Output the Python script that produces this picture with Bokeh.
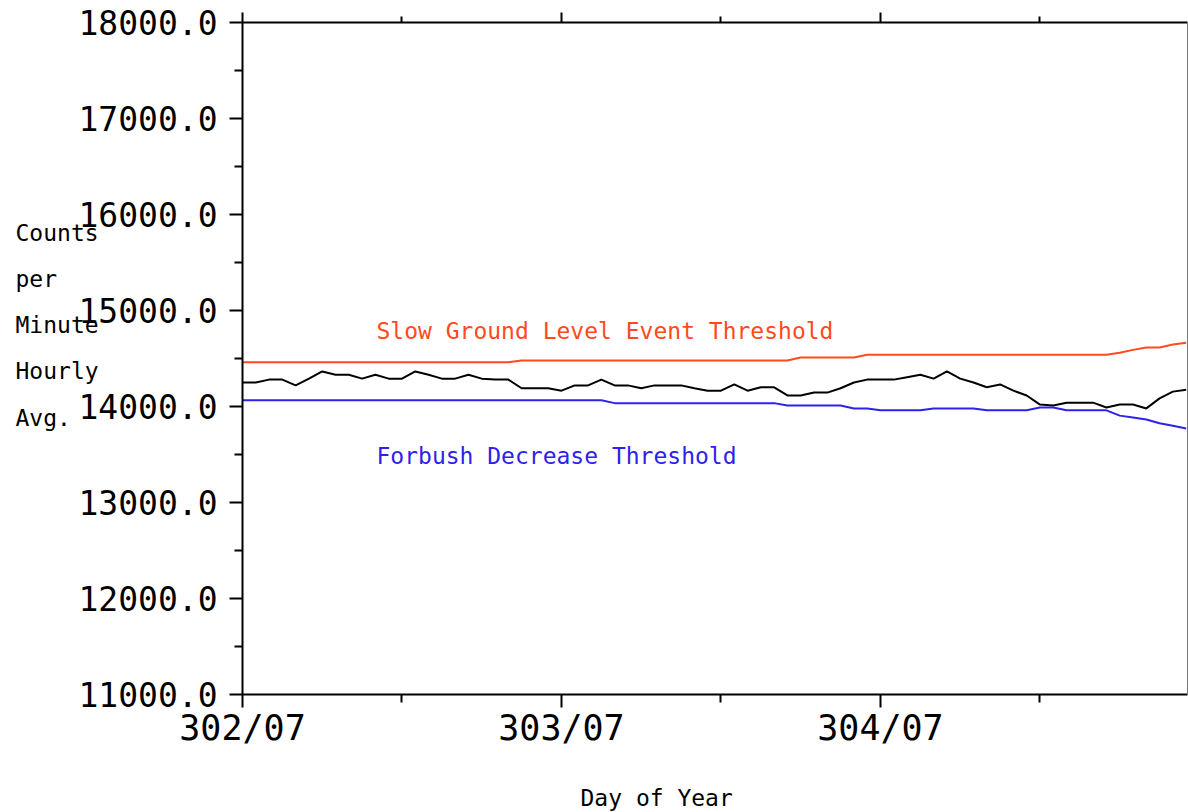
from bokeh.plotting import figure
from bokeh.models import Range1d, LinearAxis, FixedTicker, Label
from bokeh.embed import file_html
from bokeh.resources import INLINE

# ---- data -------------------------------------------------------------
hours = list(range(72))  # hours after 302/07

counts = [14250, 14250, 14280, 14280, 14220, 14290, 14365, 14330, 14330, 14290,
          14330, 14290, 14290, 14365, 14330, 14290, 14290, 14330, 14290, 14280,
          14280, 14190, 14190, 14190, 14165, 14220, 14220, 14280, 14220, 14220,
          14190, 14220, 14220, 14220, 14190, 14165, 14165, 14230, 14165, 14200,
          14200, 14115, 14115, 14145, 14145, 14190, 14250, 14280, 14280, 14280,
          14305, 14330, 14290, 14365, 14290, 14250, 14200, 14230, 14165, 14115,
          14020, 14010, 14040, 14040, 14040, 13990, 14020, 14020, 13980, 14085,
          14155, 14175]

slow_gle = [14460, 14460, 14460, 14460, 14460, 14460, 14460, 14460, 14460, 14460, 14460, 14460,
            14460, 14460, 14460, 14460, 14460, 14460, 14460, 14460, 14460, 14480, 14480, 14480,
            14480, 14480, 14480, 14480, 14480, 14480, 14480, 14480, 14480, 14480, 14480, 14480,
            14480, 14480, 14480, 14480, 14480, 14480, 14510, 14510, 14510, 14510, 14510, 14540,
            14540, 14540, 14540, 14540, 14540, 14540, 14540, 14540, 14540, 14540, 14540, 14540,
            14540, 14540, 14540, 14540, 14540, 14540, 14560, 14590, 14615, 14615, 14645, 14665]

forbush = [14065, 14065, 14065, 14065, 14065, 14065, 14065, 14065, 14065, 14065, 14065, 14065,
           14065, 14065, 14065, 14065, 14065, 14065, 14065, 14065, 14065, 14065, 14065, 14065,
           14065, 14065, 14065, 14065, 14035, 14035, 14035, 14035, 14035, 14035, 14035, 14035,
           14035, 14035, 14035, 14035, 14035, 14010, 14010, 14010, 14010, 14010, 13980, 13980,
           13960, 13960, 13960, 13960, 13980, 13980, 13980, 13980, 13960, 13960, 13960, 13960,
           13990, 13990, 13960, 13960, 13960, 13960, 13905, 13885, 13865, 13825, 13800, 13770]

x_tick_pos = [0, 24, 48]
x_tick_labels = ["302/07", "303/07", "304/07"]
x_minor_pos = [12, 36, 60]

y_tick_pos = [11000, 12000, 13000, 14000, 15000, 16000, 17000, 18000]
y_tick_labels = ["11000.0", "12000.0", "13000.0", "14000.0",
                 "15000.0", "16000.0", "17000.0", "18000.0"]
y_minor_pos = [11500, 12500, 13500, 14500, 15500, 16500, 17500]

ylabel_lines = ["Counts", "per", "Minute", "Hourly", "Avg."]
xlabel_text = "Day of Year"
sgle_text = "Slow Ground Level Event Threshold"
fd_text = "Forbush Decrease Threshold"

# ---- styling ----------------------------------------------------------
ORANGE = "#ff4a1c"
BLUE = "#2e22ea"
MONO = "DejaVu Sans Mono"
W, H = 1188, 812

X0, X1 = 0, 71.1
Y0, Y1 = 11000, 18000
FL, FR, FT, FB = 242, 1187, 22, 694   # pixel box of the plotted data area


def sx(px):
    return X0 + (px - FL) * (X1 - X0) / (FR - FL)


def sy(py):
    return Y1 - (py - FT) * (Y1 - Y0) / (FB - FT)


p = figure(width=W, height=H, output_backend="svg", toolbar_location=None,
           x_range=Range1d(sx(0), sx(W)), y_range=Range1d(sy(H), sy(0)),
           x_axis_type=None, y_axis_type=None,
           min_border_left=0, min_border_right=0,
           min_border_top=0, min_border_bottom=0)
p.background_fill_color = "white"
p.border_fill_color = "white"
p.outline_line_color = None

xt = FixedTicker(ticks=x_tick_pos, minor_ticks=x_minor_pos)
yt = FixedTicker(ticks=y_tick_pos, minor_ticks=y_minor_pos)

bottom = LinearAxis(ticker=xt, fixed_location=Y0, bounds=(X0, X1),
                    major_label_overrides={float(k): v for k, v in zip(x_tick_pos, x_tick_labels)},
                    axis_line_width=2, axis_line_color="black",
                    major_tick_out=13, major_tick_in=0, minor_tick_out=8, minor_tick_in=0,
                    major_tick_line_width=2, minor_tick_line_width=2,
                    major_label_standoff=0,
                    major_label_text_font=MONO, major_label_text_font_size="35px",
                    major_label_text_color="black")
p.add_layout(bottom, "below")

top = LinearAxis(ticker=xt, fixed_location=Y1, bounds=(X0, X1),
                 axis_line_width=2, axis_line_color="black",
                 major_tick_out=10, major_tick_in=0, minor_tick_out=6, minor_tick_in=0,
                 major_tick_line_width=2, minor_tick_line_width=2,
                 major_label_standoff=0, major_label_text_font_size="0px",
                 major_label_text_color=None)
p.add_layout(top, "above")

left = LinearAxis(ticker=yt, fixed_location=X0, bounds=(Y0, Y1),
                  major_label_overrides={float(k): v for k, v in zip(y_tick_pos, y_tick_labels)},
                  axis_line_width=2, axis_line_color="black",
                  major_tick_out=13, major_tick_in=0, minor_tick_out=8, minor_tick_in=0,
                  major_tick_line_width=2, minor_tick_line_width=2,
                  major_label_standoff=12,
                  major_label_text_font=MONO, major_label_text_font_size="33px",
                  major_label_text_color="black")
p.add_layout(left, "left")

right = LinearAxis(ticker=FixedTicker(ticks=[], minor_ticks=[]), fixed_location=X1,
                   bounds=(Y0, Y1), axis_line_width=1, axis_line_color="#777777",
                   major_tick_out=0, major_tick_in=0, minor_tick_out=0, minor_tick_in=0,
                   major_label_text_font_size="0px", major_label_text_color=None)
p.add_layout(right, "right")

p.line(hours, slow_gle, line_color=ORANGE, line_width=2)
p.line(hours, forbush, line_color=BLUE, line_width=2)
p.line(hours, counts, line_color="black", line_width=2)

p.add_layout(Label(x=sx(376), y=sy(330), text=sgle_text, text_font=MONO,
                   text_font_size="23px", text_color=ORANGE, text_baseline="alphabetic"))
p.add_layout(Label(x=sx(376), y=sy(455), text=fd_text, text_font=MONO,
                   text_font_size="23px", text_color=BLUE, text_baseline="alphabetic"))

for i, t in enumerate(ylabel_lines):
    p.add_layout(Label(x=sx(15), y=sy(232 + 46.3 * i), text=t, text_font=MONO,
                       text_font_size="23px", text_color="black", text_baseline="alphabetic"))

p.add_layout(Label(x=sx(580), y=sy(797), text=xlabel_text, text_font=MONO,
                   text_font_size="23px", text_color="black", text_baseline="alphabetic"))

open("out.html", "w").write(file_html(p, INLINE))
